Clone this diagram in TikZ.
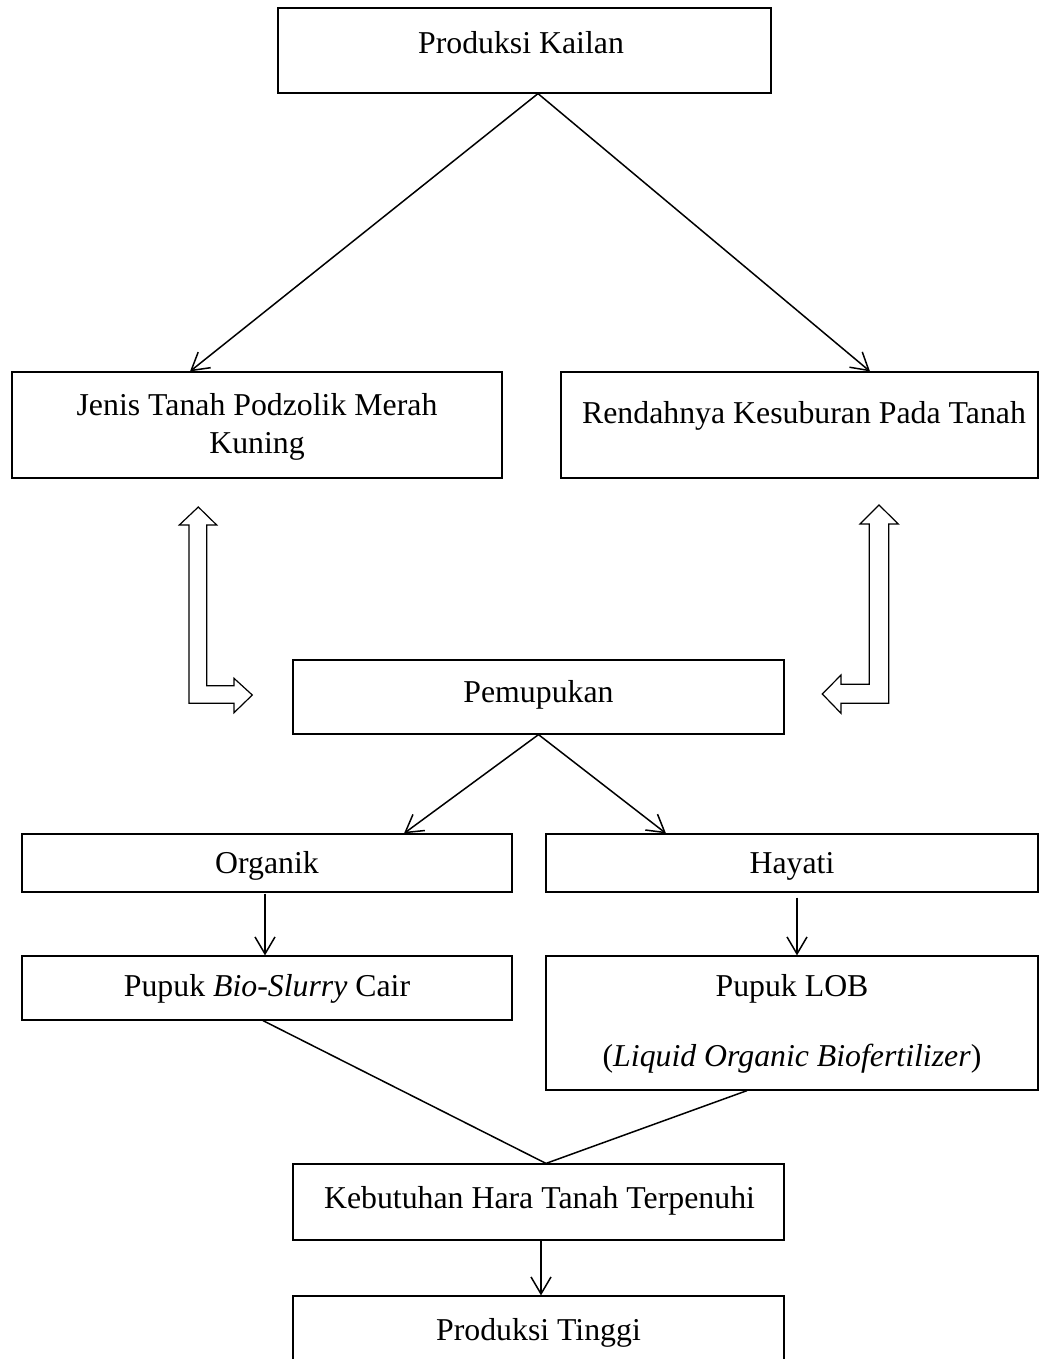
\documentclass[tikz,border=0pt]{standalone}
\usepackage{fontspec}
\setmainfont{Liberation Serif}
\usetikzlibrary{arrows.meta,fit,calc}
\begin{document}
\begin{tikzpicture}[x=0.5pt,y=-0.5pt,
  box/.style={draw, line width=0.6pt, rectangle, inner sep=0pt},
  lbl/.style={font=\fontsize{15.9}{19}\selectfont, inner sep=0pt, anchor=base},
  arr/.style={line width=0.75pt, -{Straight Barb[length=8.5pt,width=10pt,line width=0.75pt]}},
  ln/.style={line width=0.75pt},
  hollow/.style={draw, line width=0.6pt, fill=white, line join=miter}]
\useasboundingbox (0,0) rectangle (1041,1359);
\clip (0,0) rectangle (1041,1359);

% boxes
\node[box, fit={(278,8) (771,93)}] (kailan) {};
\node[box, fit={(12,372) (502,478)}] (jenis) {};
\node[box, fit={(561,372) (1038,478)}] (rendah) {};
\node[box, fit={(293,660) (784,734)}] (pemupukan) {};
\node[box, fit={(22,834) (512,892)}] (organik) {};
\node[box, fit={(546,834) (1038,892)}] (hayati) {};
\node[box, fit={(22,956) (512,1020)}] (biosl) {};
\node[box, fit={(546,956) (1038,1090)}] (lob) {};
\node[box, fit={(293,1164) (784,1240)}] (keb) {};
\node[box, fit={(293,1296) (784,1400)}] (tinggi) {};

% texts
\node[lbl] (tkailan) at (521,54) {Produksi Kailan};
\node[lbl] (tjenis1) at (257,415) {Jenis Tanah Podzolik Merah};
\node[lbl] (tjenis2) at (257,453) {Kuning};
\node[lbl] (trendah) at (804,423) {Rendahnya Kesuburan Pada Tanah};
\node[lbl] (tpemupukan) at (538.5,702) {Pemupukan};
\node[lbl] (torganik) at (267,873) {Organik};
\node[lbl] (thayati) at (792,873) {Hayati};
\node[lbl] (tbiosl) at (267,996) {Pupuk \textit{Bio-Slurry} Cair};
\node[lbl] (tlob1) at (792,996) {Pupuk LOB};
\node[lbl] (tlob2) at (792,1066) {(\textit{Liquid Organic Biofertilizer})};
\node[lbl] (tkeb) at (539.5,1208) {Kebutuhan Hara Tanah Terpenuhi};
\node[lbl] (ttinggi) at (538.5,1340) {Produksi Tinggi};

% connectors
\coordinate (ktop) at ($(kailan.south)+(13.5,0)$);
\draw[arr] (ktop) -- ($(jenis.north)+(-67,0)$);
\draw[arr] (ktop) -- ($(rendah.north)+(70.5,0)$);
\draw[arr] (pemupukan.south) -- ($(organik.north)+(137,0)$);
\draw[arr] (pemupukan.south) -- ($(hayati.north)+(-126,0)$);
\draw[arr] ($(organik.south)+(-2,1)$) -- ($(biosl.north)+(-2,0)$);
\draw[arr] ($(hayati.south)+(5,5)$) -- ($(lob.north)+(5,0)$);
\draw[ln] ($(biosl.south)+(-4,0)$) -- ($(keb.north)+(7.5,0)$) -- ($(lob.south)+(-45,0)$);
\draw[arr] ($(keb.south)+(2.5,0)$) -- ($(tinggi.north)+(2.5,0)$);

% hollow double arrows
\draw[hollow] (198.3,507) -- (216.7,525) -- (206.7,525) -- (206.7,685.7) -- (234,685.7)
  -- (234,678.3) -- (252.3,695) -- (234,712.7) -- (234,703.3) -- (189,703.3)
  -- (189,525) -- (179.3,525) -- cycle;
\draw[hollow] (879,505) -- (898.3,524) -- (888.7,524) -- (888.7,703.3) -- (841,703.3)
  -- (841,713.3) -- (822.3,694) -- (841,675) -- (841,684.3) -- (869.3,684.3)
  -- (869.3,524) -- (860,524) -- cycle;
\end{tikzpicture}
\end{document}
